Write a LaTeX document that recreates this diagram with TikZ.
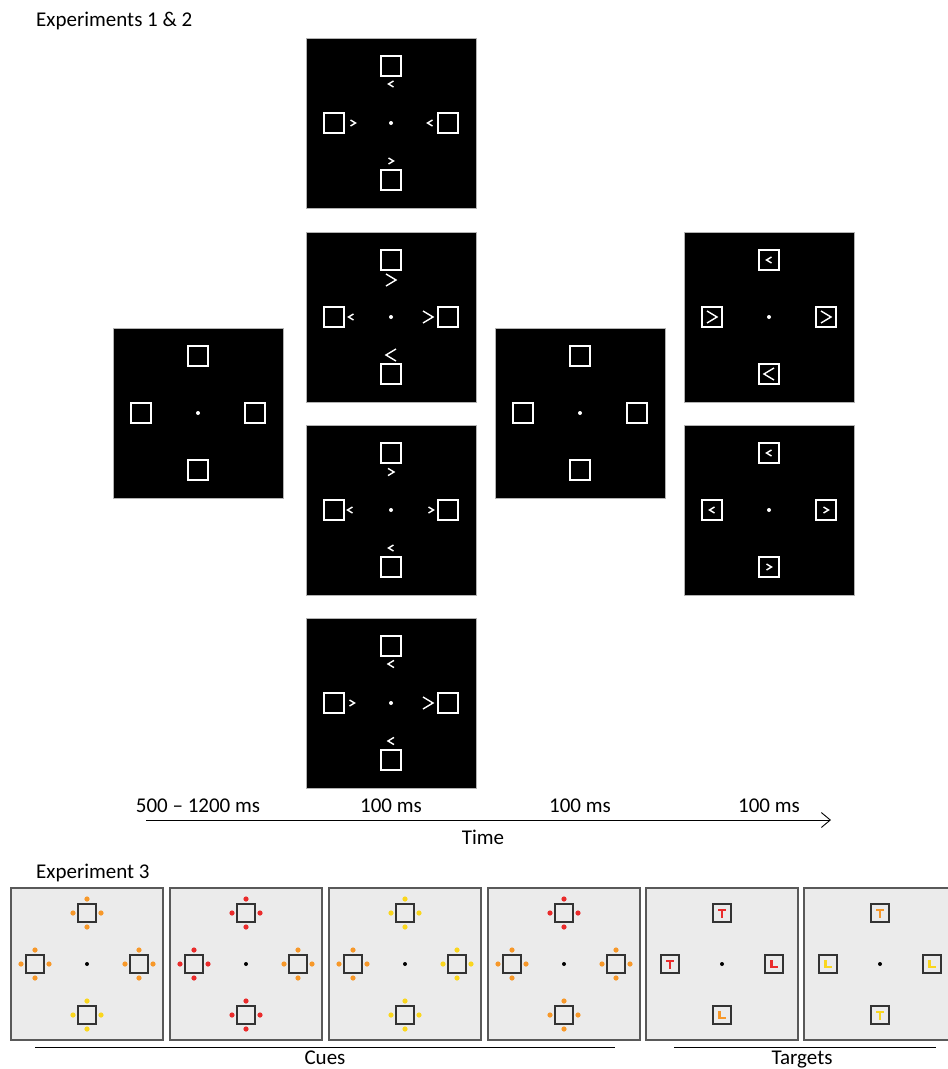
\documentclass[tikz,border=0pt]{standalone}
\usepackage{fontspec}
\setmainfont{Carlito}
\usetikzlibrary{arrows.meta}

\definecolor{panelgray}{RGB}{235,235,235}
\definecolor{cuered}{RGB}{234,43,43}
\definecolor{cueorange}{RGB}{247,152,41}
\definecolor{cueyellow}{RGB}{250,214,29}

\begin{document}
\begin{tikzpicture}[x=1pt,y=-1pt,
  font=\fontsize{21}{25}\selectfont,
  lbl/.style={inner sep=0pt},
  disp/.style={fill=black,draw=gray!60,line width=0.8pt},
  plc/.style={draw=white,line width=1.3pt},
  chv/.style={draw=white,line width=1.4pt,line join=miter},
  cpanel/.style={fill=panelgray,draw=black!65,line width=1.5pt},
  cbox/.style={draw=black!80,line width=1.3pt},
  axis/.style={line width=0.9pt,-{Straight Barb[length=9pt,width=15pt]}},
  rule/.style={line width=0.9pt},
  % black display with four placeholders
  pics/display/.style={code={
    \path[disp] (-85,-85) rectangle (85,85);
    \foreach \px/\py in {0/-57,-57/0,57/0,0/57}
      \path[plc] (\px-10,\py-10) rectangle ++(20,20);
    \fill[white] (0,0) circle (2pt);
  }},
  pics/lchev/.style={code={\path[chv] (#1*0.5,-#1*0.6) -- (-#1*0.5,0) -- (#1*0.5,#1*0.6);}},
  pics/rchev/.style={code={\path[chv] (-#1*0.5,-#1*0.6) -- (#1*0.5,0) -- (-#1*0.5,#1*0.6);}},
  % grey display of experiment 3
  pics/cuepanel/.style={code={
    \path[cpanel] (-76,-76) rectangle (76,76);
    \fill[black] (0,0) circle (2pt);
  }},
  pics/cuebox/.style={code={
    \foreach \dx/\dy in {0/-14,-14/0,14/0,0/14}
      \fill[#1] (\dx,\dy) circle (2.6pt);
    \path[cbox] (-9,-9) rectangle (9,9);
  }},
  pics/tbox/.style={code={
    \path[cbox] (-9,-9) rectangle (9,9);
    \fill[#1] (-4,-4.5) rectangle (4,-2);
    \fill[#1] (-1.4,-4.5) rectangle (1.4,4.7);
  }},
  pics/lbox/.style={code={
    \path[cbox] (-9,-9) rectangle (9,9);
    \fill[#1] (-3.6,-4.5) rectangle (-0.9,4.2);
    \fill[#1] (-3.6,1.7) rectangle (4.2,4.2);
  }}
]
\clip (0,0) rectangle (948,1069);

% experiments 1 & 2
\node[lbl,anchor=base west] (exp12) at (36,26) {Experiments 1 \& 2};

% fixation
\pic (fixA) at (198,413) {display};

% cues
\begin{scope}[shift={(391,123)}]
  \pic (cueA) {display};
  \pic at (0,-39) {lchev=5}; \pic at (-38,0) {rchev=5};
  \pic at (39,0) {lchev=5};  \pic at (0,38) {rchev=5};
\end{scope}
\begin{scope}[shift={(391,317)}]
  \pic (cueB) {display};
  \pic at (0,-37) {rchev=10}; \pic at (-40,0) {lchev=5};
  \pic at (37,0) {rchev=10};  \pic at (0,38) {lchev=10};
\end{scope}
\begin{scope}[shift={(391,510)}]
  \pic (cueC) {display};
  \pic at (0,-38) {rchev=6}; \pic at (-41,0) {lchev=5};
  \pic at (40,0) {rchev=5};  \pic at (0,38) {lchev=5};
\end{scope}
\begin{scope}[shift={(391,703)}]
  \pic (cueD) {display};
  \pic at (0,-39) {lchev=6}; \pic at (-39,0) {rchev=5};
  \pic at (37,0) {rchev=10}; \pic at (0,38) {lchev=6};
\end{scope}

% second fixation
\pic (fixB) at (580,413) {display};

% targets
\begin{scope}[shift={(769,317)}]
  \pic (tgtA) {display};
  \pic at (0,-57) {lchev=5};   \pic at (-57,0) {rchev=10};
  \pic at (57,0) {rchev=10};   \pic at (0,57) {lchev=10};
\end{scope}
\begin{scope}[shift={(769,510)}]
  \pic (tgtB) {display};
  \pic at (0,-57) {lchev=5}; \pic at (-57,0) {lchev=5};
  \pic at (57,0) {rchev=5};  \pic at (0,57) {rchev=5};
\end{scope}

% time line
\node[lbl,anchor=base] (dA) at (198,812) {500 -- 1200 ms};
\node[lbl,anchor=base] (dB) at (391,812) {100 ms};
\node[lbl,anchor=base] (dC) at (580,812) {100 ms};
\node[lbl,anchor=base] (dD) at (769,812) {100 ms};
\coordinate (tstart) at (146,820);
\coordinate (tend) at (831,820);
\draw[axis] (tstart) -- (tend);
\node[lbl,anchor=base] (time) at (483,844) {Time};

% experiment 3
\node[lbl,anchor=base west] (exp3) at (36,878) {Experiment 3};
\foreach \cx/\ct/\cl/\cr/\cb in {87/cueorange/cueorange/cueorange/cueyellow,
    246/cuered/cuered/cueorange/cuered,
    405/cueyellow/cueorange/cueyellow/cueyellow,
    564/cuered/cueorange/cueorange/cueorange}{
  \begin{scope}[shift={(\cx,964)}]
    \pic {cuepanel};
    \pic at (0,-51) {cuebox=\ct}; \pic at (-52,0) {cuebox=\cl};
    \pic at (52,0) {cuebox=\cr};  \pic at (0,51) {cuebox=\cb};
  \end{scope}
}
\begin{scope}[shift={(722,964)}]
  \pic {cuepanel};
  \pic at (0,-51) {tbox=cuered};  \pic at (-52,0) {tbox=cuered};
  \pic at (52,0) {lbox=cuered};   \pic at (0,51) {lbox=cueorange};
\end{scope}
\begin{scope}[shift={(880,964)}]
  \pic {cuepanel};
  \pic at (0,-51) {tbox=cueorange}; \pic at (-52,0) {lbox=cueyellow};
  \pic at (52,0) {lbox=cueyellow};  \pic at (0,51) {tbox=cueyellow};
\end{scope}

% groups
\coordinate (cuesL) at (35,1047);
\coordinate (cuesR) at (615,1047);
\coordinate (tgtsL) at (674,1047);
\coordinate (tgtsR) at (936,1047);
\draw[rule] (cuesL) -- (cuesR);
\draw[rule] (tgtsL) -- (tgtsR);
\node[lbl,anchor=base] (cues) at (325,1064) {Cues};
\node[lbl,anchor=base] (tgts) at (802,1064) {Targets};
\end{tikzpicture}
\end{document}
